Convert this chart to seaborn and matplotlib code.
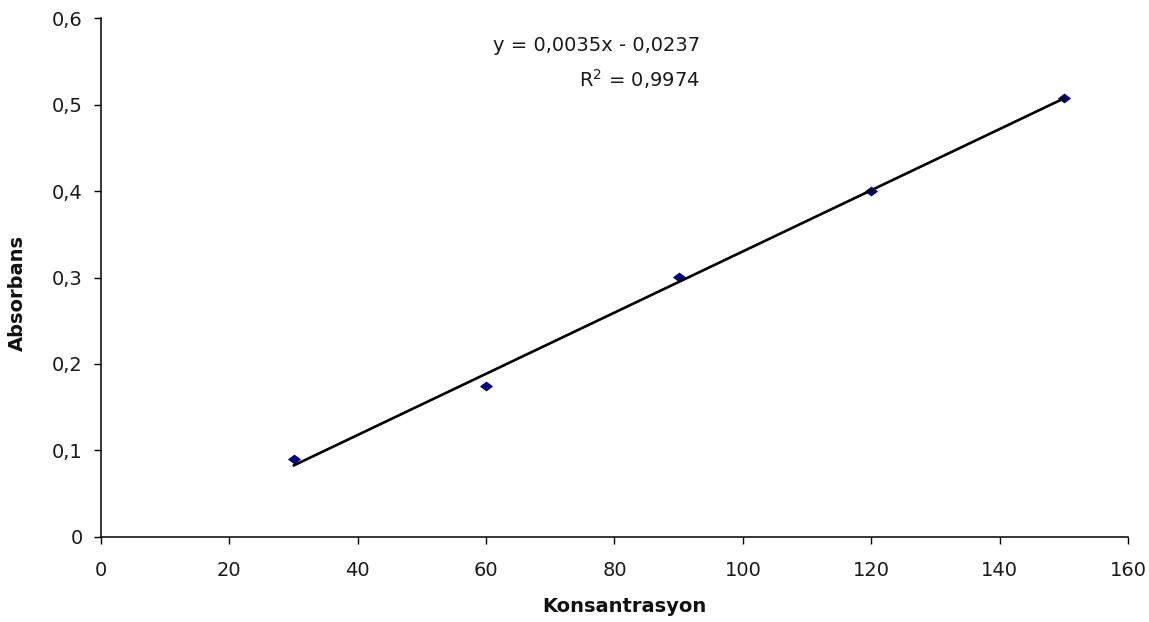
import matplotlib
matplotlib.use('Agg')
from matplotlib.pyplot import figure, savefig, close, rcParams
from matplotlib.ticker import FuncFormatter, MultipleLocator
from seaborn import regplot, set_style
import pandas as pd

# Konsantrasyon vs Absorbans
konsantrasyon = [30, 60, 90, 120, 150]
absorbans = [0.090, 0.175, 0.301, 0.400, 0.508]

set_style('white')
rcParams['font.family'] = ['DejaVu Sans']

df = pd.DataFrame({'Konsantrasyon': konsantrasyon, 'Absorbans': absorbans})

fig = figure(figsize=(11.49, 6.22), dpi=100)
fig.patch.set_facecolor('white')
ax = fig.add_axes([0.0879, 0.1367, 0.8938, 0.8343])

# flattened diamond like the excel marker
diamond = [(-1, 0), (0, 0.75), (1, 0), (0, -0.75), (-1, 0)]

ax = regplot(
    data=df,
    x='Konsantrasyon',
    y='Absorbans',
    ci=None,
    truncate=True,
    marker=diamond,
    ax=ax,
    scatter_kws={
        'color': '#000080',
        's': 90,
        'alpha': 1,
        'linewidths': 0,
        'zorder': 3,
    },
    line_kws={
        'color': 'black',
        'linewidth': 1.9,
        'zorder': 4,
    },
)

ax.set_xlim(0, 160)
ax.set_ylim(0, 0.6)
ax.xaxis.set_major_locator(MultipleLocator(20))
ax.yaxis.set_major_locator(MultipleLocator(0.1))

comma = FuncFormatter(lambda v, pos: ('%g' % round(v, 3)).replace('.', ','))
ax.xaxis.set_major_formatter(comma)
ax.yaxis.set_major_formatter(comma)

for side in ('top', 'right'):
    ax.spines[side].set_visible(False)
for side in ('left', 'bottom'):
    ax.spines[side].set_color('black')
    ax.spines[side].set_linewidth(1.1)

ax.tick_params(axis='both', direction='out', length=5, width=1,
               color='black', labelsize=14, labelcolor='#1a1a1a',
               left=True, bottom=True)
ax.tick_params(axis='x', pad=12)
ax.tick_params(axis='y', pad=8)

ax.set_xlabel('Konsantrasyon', fontsize=14, fontweight='bold', color='#111111')
ax.set_ylabel('Absorbans', fontsize=14, fontweight='bold', color='#111111')
ax.xaxis.set_label_coords(0.510, -0.115)
ax.yaxis.set_label_coords(-0.072, 0.471)

ax.text(0.583, 0.947, 'y = 0,0035x - 0,0237', transform=ax.transAxes,
        ha='right', va='center', fontsize=14, color='#1a1a1a')
ax.text(0.583, 0.8815, 'R$^2$ = 0,9974', transform=ax.transAxes,
        ha='right', va='center', fontsize=14, color='#1a1a1a')

savefig('out.png', dpi=100, facecolor=fig.get_facecolor())
close(fig)
